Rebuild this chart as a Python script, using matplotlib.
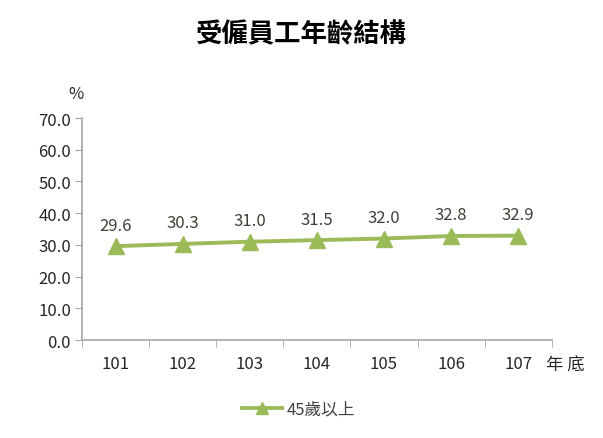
import matplotlib
matplotlib.use("Agg")
import matplotlib.pyplot as plt

plt.rcParams['font.family'] = ['Noto Sans CJK TC', 'DejaVu Sans']

years = ["101", "102", "103", "104", "105", "106", "107"]
share_45plus = [29.6, 30.3, 31.0, 31.5, 32.0, 32.8, 32.9]
yticks = [0, 10, 20, 30, 40, 50, 60, 70]

GREEN = "#9BBB59"
AXIS = "#A6A6A6"
TXT = "#262626"

fig = plt.figure(figsize=(6.03, 4.39), dpi=100)
ax = fig.add_axes([0.136, 0.2232, 0.779, 0.5057])

x = list(range(len(years)))
line, = ax.plot(x, share_45plus, color=GREEN, lw=2.8, marker="^", ms=11,
                markeredgecolor=GREEN, markerfacecolor=GREEN, label="45歲以上")
for xi, v in zip(x, share_45plus):
    ax.annotate(f"{v:.1f}", (xi, v), xytext=(0, 9), textcoords="offset points",
                ha="center", va="bottom", fontsize=12, color="#404038")

ax.set_xlim(-0.5, len(years) - 0.5)
ax.set_ylim(0, 70)
ax.set_yticks(yticks)
ax.set_yticklabels([f"{t:.1f}" for t in yticks], fontsize=12, color=TXT)
ax.set_xticks(x)
ax.set_xticklabels(years, fontsize=12, color=TXT)
ax.set_xticks([i - 0.5 for i in range(len(years) + 1)], minor=True)
ax.tick_params(axis="x", which="major", length=0, pad=11)
ax.tick_params(axis="x", which="minor", length=5, color=AXIS, direction="out")
ax.tick_params(axis="y", length=5, color=AXIS, direction="out", pad=3)
for s in ("top", "right"):
    ax.spines[s].set_visible(False)
for s in ("left", "bottom"):
    ax.spines[s].set_color(AXIS)
    ax.spines[s].set_linewidth(1.2)

fig.text(0.5, 0.92, "受僱員工年齡結構", ha="center", va="center", fontsize=19,
         fontweight="bold", color="black")
fig.text(0.126, 0.785, "%", ha="center", va="center", fontsize=12, color=TXT)
fig.text(0.937, 0.168, "年 底", ha="center", va="center", fontsize=12.5, color=TXT)

line_leg = plt.Line2D([], [], color=GREEN, lw=2.8, marker="^", ms=9,
                      markeredgecolor=GREEN, markerfacecolor=GREEN)
fig.legend(handles=[line_leg], labels=["45歲以上"], loc="center",
           bbox_to_anchor=(0.495, 0.065), frameon=False,
           fontsize=12, handlelength=2.4, handletextpad=0.3,
           labelcolor="#404040")

fig.savefig("out.png", dpi=100)
